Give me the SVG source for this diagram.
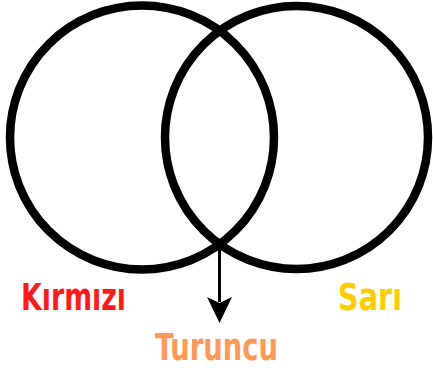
<svg xmlns="http://www.w3.org/2000/svg" width="433" height="373" viewBox="0 0 433 373">
<style>
.ring{fill:none;stroke:#000;stroke-width:8.5}
.lbl{font-family:"Liberation Sans Narrow","DejaVu Sans Condensed","Liberation Sans",sans-serif;font-weight:bold;font-size:38px}
</style>
<rect width="433" height="373" fill="#fff"/>
<g id="kirmizi">
<circle class="ring" cx="142" cy="137.5" r="132"/>
<text class="lbl" x="21" y="310" fill="#FF1A1A" textLength="105" lengthAdjust="spacingAndGlyphs">Kırmızı</text>
</g>
<g id="sari">
<circle class="ring" cx="296.5" cy="137.5" r="131.5"/>
<text class="lbl" x="338" y="310" fill="#FFCC00" textLength="64" lengthAdjust="spacingAndGlyphs">Sarı</text>
</g>
<g id="turuncu">
<text class="lbl" x="155" y="360" fill="#FF9955" textLength="123" lengthAdjust="spacingAndGlyphs">Turuncu</text>
</g>
<g id="connectors">
<line x1="219.5" y1="244" x2="219.5" y2="302" stroke="#000" stroke-width="3"/>
<polygon points="219.5,323 207,297 219.5,303 232,297" fill="#000"/>
</g>
</svg>
